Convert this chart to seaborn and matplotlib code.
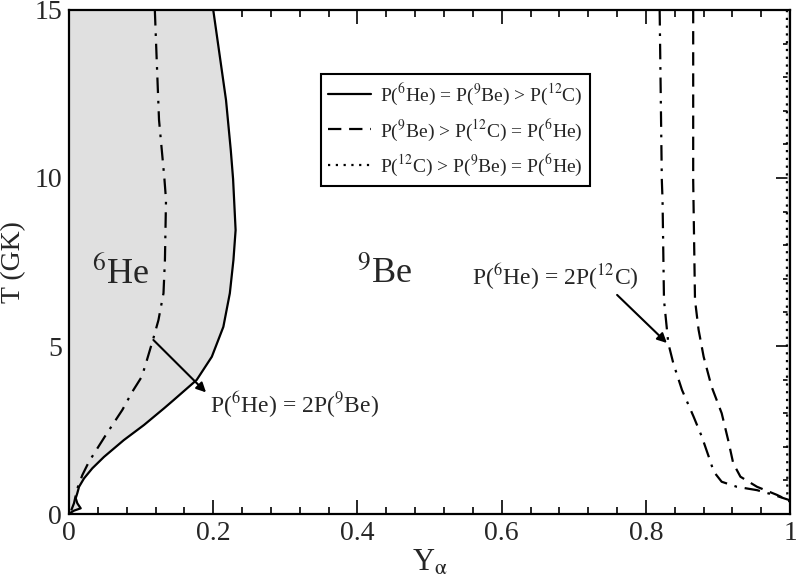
import numpy as np
import matplotlib
matplotlib.use("Agg")
import matplotlib.pyplot as plt
import seaborn as sns
from matplotlib.ticker import MultipleLocator

# ==================== DATA ====================
# P(6He) = P(9Be) > P(12C)  (solid, boundary of the 6He region)
solid_Y = [0.200, 0.2177, 0.2243, 0.2275, 0.231, 0.228, 0.223, 0.214, 0.198, 0.177,
           0.161, 0.145, 0.132, 0.104, 0.076, 0.0485, 0.0323, 0.0208, 0.0139, 0.0115,
           0.0093, 0.0115, 0.0162, 0.0069, 0.0024]
solid_T = [15.0, 12.32, 10.83, 9.97, 8.45, 7.56, 6.57, 5.57, 4.68, 3.99,
           3.69, 3.39, 3.15, 2.65, 2.20, 1.70, 1.36, 1.06, 0.81, 0.62,
           0.47, 0.32, 0.17, 0.10, 0.04]

# P(6He) = 2P(9Be)  (dash-dot, left)
he_be_Y = [0.119, 0.1216, 0.1248, 0.1322, 0.1345, 0.133, 0.131, 0.124, 0.117, 0.108,
           0.101, 0.0878, 0.074, 0.051, 0.0277, 0.0185, 0.0115, 0.0069, 0.0024]
he_be_T = [15.0, 13.51, 11.73, 10.0, 9.35, 7.56, 6.57, 5.77, 5.23, 4.58,
           4.09, 3.64, 3.10, 2.35, 1.56, 1.16, 0.76, 0.32, 0.07]

# P(6He) = 2P(12C)  (dash-dot, right)
he_c_Y = [0.819, 0.822, 0.823, 0.825, 0.831, 0.838, 0.850, 0.866, 0.8775, 0.887,
          0.894, 0.905, 0.926, 0.954, 0.977, 0.998, 1.0]
he_c_T = [15.0, 9.94, 9.35, 6.37, 5.08, 4.48, 3.69, 2.90, 2.30, 1.71,
          1.26, 0.96, 0.81, 0.71, 0.57, 0.42, 0.35]

# P(9Be) > P(12C) = P(6He)  (dashed)
dashed_Y = [0.8655, 0.8655, 0.868, 0.873, 0.880, 0.891, 0.905, 0.914, 0.921, 0.931,
            0.954, 0.9815, 0.998, 1.0]
dashed_T = [15.0, 9.94, 6.37, 5.48, 4.68, 3.79, 3.00, 2.20, 1.51, 1.11,
            0.81, 0.57, 0.40, 0.36]

# P(12C) > P(9Be) = P(6He)  (dotted)
dotted_Y = [0.9955, 0.9955, 0.996, 1.0]
dotted_T = [15.0, 5.0, 0.6, 0.3]

LEGEND_LABELS = [r'P($^{6}$He) = P($^{9}$Be) > P($^{12}$C)',
                 r'P($^{9}$Be) > P($^{12}$C) = P($^{6}$He)',
                 r'P($^{12}$C) > P($^{9}$Be) = P($^{6}$He)']

# ==================== STYLE ====================
sns.set_style("ticks")
plt.rcParams['font.family'] = ['Liberation Serif', 'DejaVu Serif']
plt.rcParams['mathtext.fontset'] = 'stix'

fig = plt.figure(figsize=(7.96, 5.81), dpi=100)
ax = fig.add_axes([0.0867, 0.1153, 0.906, 0.8675])

FILL = '#e0e0e0'
ax.fill_betweenx(solid_T, 0, solid_Y, color=FILL, lw=0)
ax.fill_betweenx(dotted_T, dotted_Y, 1, color=FILL, lw=0)

dashdot = (0, (7, 3.5, 1.2, 3.5))
kw = dict(sort=False, estimator=None, color='black', lw=1.6, ax=ax)
sns.lineplot(x=solid_Y, y=solid_T, linestyle='-', label=LEGEND_LABELS[0], **kw)
sns.lineplot(x=dashed_Y, y=dashed_T, linestyle=(0, (6, 3.5)), label=LEGEND_LABELS[1], **kw)
sns.lineplot(x=dotted_Y, y=dotted_T, linestyle=(0, (1, 2.5)), label=LEGEND_LABELS[2], **kw)
sns.lineplot(x=he_be_Y, y=he_be_T, linestyle=dashdot, **kw)
sns.lineplot(x=he_c_Y, y=he_c_T, linestyle=dashdot, **kw)

# ==================== ANNOTATIONS ====================
ax.text(0.032, 6.875, r'$^{6}$He', fontsize=26, va='baseline')
ax.text(0.399, 6.875, r'$^{9}$Be', fontsize=26, va='baseline')

arrow = dict(arrowstyle='-|>', color='black', lw=1.5, mutation_scale=14,
             shrinkA=0, shrinkB=0)
ax.annotate('', xy=(0.19, 3.62), xytext=(0.117, 5.18), arrowprops=arrow)
ax.text(0.1955, 3.0, r'P($^{6}$He) = 2P($^{9}$Be)', fontsize=17, va='baseline')
ax.annotate('', xy=(0.829, 5.09), xytext=(0.760, 6.52), arrowprops=arrow)
ax.text(0.559, 6.82, r'P($^{6}$He) = 2P($^{12}$C)', fontsize=17, va='baseline')

leg = ax.legend(loc='upper left', bbox_to_anchor=(0.349, 0.873), fontsize=14,
                frameon=True, fancybox=False, edgecolor='black', framealpha=1,
                handlelength=2.2, handletextpad=0.45, labelspacing=0.5,
                borderpad=0.4, borderaxespad=0)
leg.get_frame().set_linewidth(1.5)

# ==================== AXES ====================
ax.set_xlim(0, 1)
ax.set_ylim(0, 15)
ax.xaxis.set_major_locator(MultipleLocator(0.2))
ax.xaxis.set_minor_locator(MultipleLocator(0.04))
ax.yaxis.set_major_locator(MultipleLocator(5))
ax.yaxis.set_minor_locator(MultipleLocator(1))
ax.set_xticks([0, 0.2, 0.4, 0.6, 0.8, 1.0])
ax.set_xticklabels(['0', '0.2', '0.4', '0.6', '0.8', '1'])
ax.tick_params(which='both', direction='in', top=True, right=True, width=1.4, labelsize=20)
ax.tick_params(which='major', length=10, pad=5)
ax.tick_params(which='minor', length=5)
for s in ax.spines.values():
    s.set_linewidth(1.6)
    s.set_color('black')

ax.set_xlabel(r'Y$_{\mathrm{\alpha}}$', fontsize=22, labelpad=2)
ax.set_ylabel('T (GK)', fontsize=20, labelpad=6)

fig.savefig('out.png', dpi=100)
